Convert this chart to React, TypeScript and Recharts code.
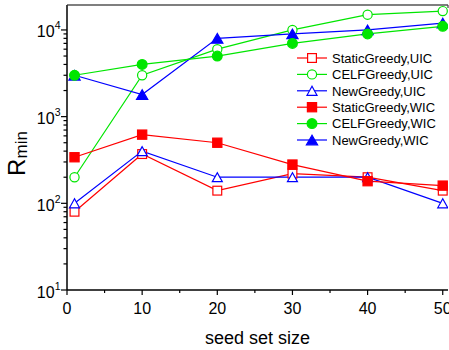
import { LineChart, Line, XAxis, YAxis, Legend } from "recharts";

const seedSizes = [1, 10, 20, 30, 40, 50];
const staticUIC = [80, 370, 140, 220, 200, 140];
const celfUIC = [200, 3000, 6000, 10000, 15000, 16500];
const newUIC = [100, 400, 200, 200, 200, 100];
const staticWIC = [340, 620, 500, 280, 180, 160];
const celfWIC = [3000, 4000, 5000, 7000, 9000, 11000];
const newWIC = [3000, 1800, 8000, 9000, 10000, 12000];

const xTicks = [0, 5, 10, 15, 20, 25, 30, 35, 40, 45, 50];
const yTicks = [
  10, 20, 30, 40, 50, 60, 70, 80, 90,
  100, 200, 300, 400, 500, 600, 700, 800, 900,
  1000, 2000, 3000, 4000, 5000, 6000, 7000, 8000, 9000,
  10000,
];

const RED = "#ff0000";
const GREEN = "#00e600";
const BLUE = "#0000ff";
const FONT = "Arial, 'Liberation Sans', Helvetica, sans-serif";

const series = [
  { key: "staticUIC", name: "StaticGreedy,UIC", color: RED, shape: "square", filled: false, values: staticUIC },
  { key: "celfUIC", name: "CELFGreedy,UIC", color: GREEN, shape: "circle", filled: false, values: celfUIC },
  { key: "newUIC", name: "NewGreedy,UIC", color: BLUE, shape: "triangle", filled: false, values: newUIC },
  { key: "staticWIC", name: "StaticGreedy,WIC", color: RED, shape: "square", filled: true, values: staticWIC },
  { key: "celfWIC", name: "CELFGreedy,WIC", color: GREEN, shape: "circle", filled: true, values: celfWIC },
  { key: "newWIC", name: "NewGreedy,WIC", color: BLUE, shape: "triangle", filled: true, values: newWIC },
];

// draw order: green filled circles sit on top of blue filled triangles
const drawOrder = ["staticUIC", "celfUIC", "newUIC", "staticWIC", "newWIC", "celfWIC"];

const data = seedSizes.map((x, i) => {
  const row: any = { x };
  series.forEach((s) => (row[s.key] = s.values[i]));
  return row;
});

const Marker = ({ cx, cy, shape, filled, color }: any) => {
  const fill = filled ? color : "#fff";
  const sw = 1.2;
  if (shape === "square") {
    const h = filled ? 4.6 : 4.4;
    return <rect x={cx - h} y={cy - h} width={h * 2} height={h * 2} fill={fill} stroke={color} strokeWidth={sw} />;
  }
  if (shape === "circle") {
    return <circle cx={cx} cy={cy} r={filled ? 4.9 : 4.6} fill={fill} stroke={color} strokeWidth={sw} />;
  }
  const w = filled ? 5.6 : 5;
  const h = filled ? 4.8 : 4.5;
  return (
    <polygon
      points={`${cx},${cy - h} ${cx - w},${cy + h} ${cx + w},${cy + h}`}
      fill={fill}
      stroke={color}
      strokeWidth={sw}
      strokeLinejoin="miter"
    />
  );
};

const BottomTick = ({ x, y, payload }: any) => {
  const v = payload.value;
  const major = v % 10 === 0;
  return (
    <g>
      <line x1={x} x2={x} y1={y} y2={y + (major ? 5 : 3)} stroke="#000" strokeWidth={1.2} />
      {major && (
        <text x={x} y={y + 24} textAnchor="middle" fontSize={16} fontFamily={FONT} fill="#000">
          {v}
        </text>
      )}
    </g>
  );
};

const TopTick = ({ x, y, payload }: any) => {
  const major = payload.value % 10 === 0;
  return <line x1={x} x2={x} y1={y} y2={y + (major ? 4 : 3)} stroke="#444" strokeWidth={1.2} />;
};

const isDecade = (v: number) => Math.abs(Math.log10(v) - Math.round(Math.log10(v))) < 1e-9;

const LeftTick = ({ x, y, payload }: any) => {
  const v = payload.value;
  const major = isDecade(v);
  return (
    <g>
      <line x1={x} x2={x - (major ? 6 : 3.5)} y1={y} y2={y} stroke="#000" strokeWidth={1.2} />
      {major && (
        <text x={x - 6.5} y={y + 7.5} textAnchor="end" fontSize={16} fontFamily={FONT} fill="#000">
          10
          <tspan fontSize={10.5} dy={-8}>
            {Math.round(Math.log10(v))}
          </tspan>
        </text>
      )}
    </g>
  );
};

const RightTick = ({ x, y, payload }: any) => {
  const major = isDecade(payload.value);
  return <line x1={x} x2={x - (major ? 5 : 3.5)} y1={y} y2={y} stroke="#000" strokeWidth={1.2} />;
};

const XTitle = ({ viewBox }: any) => (
  <text
    x={viewBox.x + viewBox.width / 2}
    y={344}
    textAnchor="middle"
    fontSize={18}
    fontFamily={FONT}
    fill="#000"
  >
    seed set size
  </text>
);

const YTitle = ({ viewBox }: any) => {
  const cx = 25;
  const cy = viewBox.y + viewBox.height / 2 + 6;
  return (
    <text
      x={cx}
      y={cy}
      transform={`rotate(-90 ${cx} ${cy})`}
      textAnchor="middle"
      fontSize={24}
      fontFamily={FONT}
      fill="#000"
    >
      R
      <tspan fontSize={17} dy={1.5}>
        min
      </tspan>
    </text>
  );
};

const LegendBox = () => (
  <svg width={155} height={100} style={{ display: "block", overflow: "visible" }}>
    {series.map((s, i) => {
      const cy = 9 + i * 16.4;
      return (
        <g key={s.key}>
          <line x1={1} x2={31} y1={cy} y2={cy} stroke={s.color} strokeWidth={1.2} />
          <Marker cx={16} cy={cy} shape={s.shape} filled={s.filled} color={s.color} />
          <text x={36} y={cy + 4.7} fontSize={13} fontFamily={FONT} fill="#000">
            {s.name}
          </text>
        </g>
      );
    })}
  </svg>
);

export default function App() {
  return (
    <div style={{ position: "absolute", left: 0, top: 0, background: "#fff" }}>
      <LineChart width={449} height={350} data={data} margin={{ top: 5, right: 1, bottom: 0, left: 0 }}>
        <XAxis
          xAxisId="main"
          dataKey="x"
          type="number"
          domain={[0, 50.7]}
          allowDataOverflow
          ticks={xTicks}
          interval={0}
          tickSize={0}
          tickMargin={0}
          tickLine={false}
          tick={<BottomTick />}
          height={60}
          axisLine={{ stroke: "#000", strokeWidth: 1.5 }}
          label={<XTitle />}
        />
        <XAxis
          xAxisId="top"
          orientation="top"
          mirror
          type="number"
          domain={[0, 50.7]}
          allowDataOverflow
          ticks={xTicks}
          interval={0}
          tickSize={0}
          tickMargin={0}
          tickLine={false}
          tick={<TopTick />}
          axisLine={{ stroke: "#555", strokeWidth: 1.5 }}
        />
        <YAxis
          yAxisId="main"
          scale="log"
          type="number"
          domain={[10, 19400]}
          allowDataOverflow
          ticks={yTicks}
          interval={0}
          tickSize={0}
          tickMargin={0}
          tickLine={false}
          tick={<LeftTick />}
          width={67}
          axisLine={{ stroke: "#000", strokeWidth: 1.5 }}
          label={<YTitle />}
        />
        <YAxis
          yAxisId="right"
          orientation="right"
          mirror
          scale="log"
          type="number"
          domain={[10, 19400]}
          allowDataOverflow
          ticks={yTicks}
          interval={0}
          tickSize={0}
          tickMargin={0}
          tickLine={false}
          tick={<RightTick />}
          width={0}
          axisLine={{ stroke: "#222", strokeWidth: 1.5 }}
        />
        <Legend
          layout="vertical"
          align="center"
          verticalAlign="middle"
          content={<LegendBox />}
          wrapperStyle={{ left: 296, top: 49, width: 155, height: 100 }}
        />
        {drawOrder.map((k) => {
          const s = series.find((d) => d.key === k)!;
          return (
            <Line
              key={s.key}
              xAxisId="main"
              yAxisId="main"
              dataKey={s.key}
              name={s.name}
              stroke={s.color}
              strokeWidth={1.2}
              isAnimationActive={false}
              dot={(p: any) => (
                <Marker key={`${s.key}-${p.index}`} cx={p.cx} cy={p.cy} shape={s.shape} filled={s.filled} color={s.color} />
              )}
              activeDot={false}
            />
          );
        })}
      </LineChart>
    </div>
  );
}
